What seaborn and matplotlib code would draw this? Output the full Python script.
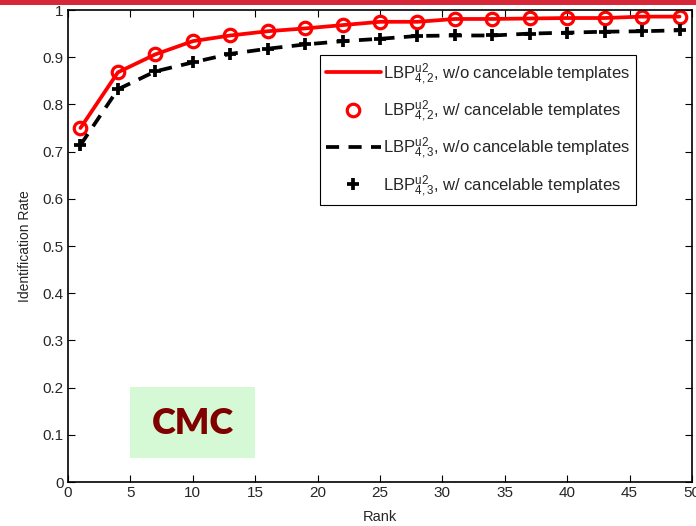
import numpy as np
import pandas as pd
import matplotlib
matplotlib.use('Agg')
import matplotlib.pyplot as plt
import seaborn as sns
from matplotlib.patches import Rectangle

# data
rank = [1, 4, 7, 10, 13, 16, 19, 22, 25, 28, 31, 34, 37, 40, 43, 46, 49]
rate_42 = [0.750, 0.868, 0.906, 0.934, 0.946, 0.955, 0.961, 0.968, 0.975, 0.975,
           0.981, 0.981, 0.982, 0.983, 0.983, 0.986, 0.986]
rate_43 = [0.714, 0.832, 0.870, 0.889, 0.907, 0.918, 0.927, 0.934, 0.939, 0.945,
           0.946, 0.946, 0.950, 0.952, 0.954, 0.955, 0.957]

labels = [r'LBP$^{\mathrm{u2}}_{4,2}$, w/o cancelable templates',
          r'LBP$^{\mathrm{u2}}_{4,2}$, w/ cancelable templates',
          r'LBP$^{\mathrm{u2}}_{4,3}$, w/o cancelable templates',
          r'LBP$^{\mathrm{u2}}_{4,3}$, w/ cancelable templates']

df = pd.DataFrame({'Rank': rank, 'r42': rate_42, 'r43': rate_43})

sns.set_style('ticks')
plt.rcParams['font.family'] = ['Liberation Sans', 'DejaVu Sans']
plt.rcParams['mathtext.fontset'] = 'custom'
plt.rcParams['mathtext.rm'] = 'Liberation Sans'
plt.rcParams['mathtext.it'] = 'Liberation Sans:italic'
plt.rcParams['mathtext.bf'] = 'Liberation Sans:bold'

fig = plt.figure(figsize=(6.96, 5.26), dpi=100)
ax = fig.add_axes([68 / 696, 1 - 482 / 526, 624 / 696, 472 / 526])

# red bar along the top of the slide
fig.patches.append(Rectangle((0, 1 - 5 / 526), 1, 5 / 526, transform=fig.transFigure,
                             facecolor='#d7283a', edgecolor='none', zorder=10))

sns.lineplot(data=df, x='Rank', y='r42', color='red', lw=2.7, ax=ax, label=labels[0])
sns.lineplot(data=df, x='Rank', y='r42', color='red', linestyle='', marker='o', ms=9,
             mfc='none', mec='red', mew=2.3, ax=ax, label=labels[1])
sns.lineplot(data=df, x='Rank', y='r43', color='black', lw=2.7,
             linestyle=(0, (3.5, 2.5)), ax=ax, label=labels[2])
sns.lineplot(data=df, x='Rank', y='r43', color='black', linestyle='', marker='+', ms=9,
             mec='black', mew=2.7, ax=ax, label=labels[3])

ax.set_xlim(0, 50)
ax.set_ylim(0, 1)
ax.set_xticks(np.arange(0, 51, 5))
ax.set_yticks(np.arange(0, 1.01, 0.1))
ax.set_yticklabels(['0', '0.1', '0.2', '0.3', '0.4', '0.5', '0.6', '0.7', '0.8', '0.9', '1'])
ax.tick_params(direction='in', length=5, width=0.8, top=True, right=True,
               labelsize=11, pad=3, color='black')
for sp in ax.spines.values():
    sp.set_linewidth(1.2)
    sp.set_color('black')
ax.set_xlabel('Rank', fontsize=10.5, labelpad=7)
ax.set_ylabel('Identification Rate', fontsize=10, labelpad=8)

leg = ax.legend(loc='upper right', bbox_to_anchor=(0.910, 0.905), fontsize=12,
                frameon=True, fancybox=False, framealpha=1, edgecolor='black',
                handlelength=3.3, labelspacing=0.68, borderpad=0.35, borderaxespad=0,
                handletextpad=0.1)
leg.get_frame().set_linewidth(0.8)

# CMC tag
ax.add_patch(Rectangle((5, 0.05), 10, 0.1517, facecolor='#d4f9d4', edgecolor='none', zorder=1))
ax.text(10, 0.125, 'CMC', color='#800000', fontsize=26, fontweight='heavy',
        family='Lato', ha='center', va='center', zorder=2)

fig.savefig('out.png', dpi=100)
